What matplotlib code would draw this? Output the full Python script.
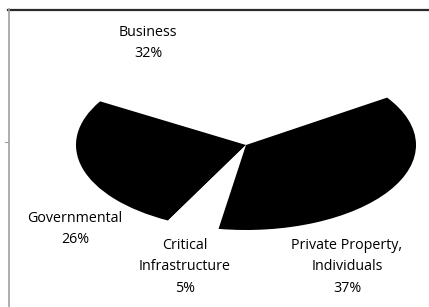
import numpy as np
import matplotlib
matplotlib.use("Agg")
from matplotlib import pyplot as plt
from matplotlib.lines import Line2D

# data
categories = ["Business", "Governmental", "Critical\nInfrastructure", "Private Property,\nIndividuals"]
shares = [32, 26, 5, 37]
colors = ["white", "black", "white", "black"]

W, H = 429, 307
fig = plt.figure(figsize=(W / 100, H / 100), dpi=100)
plt.rcParams['font.family'] = ['Open Sans', 'DejaVu Sans']


def px(x, y):
    return x / W, 1 - y / H


# axes spanning the ellipse of the tilted pie
left, top, right, bottom = 76, 60, 416, 230
ax = fig.add_axes([left / W, 1 - bottom / H, (right - left) / W, (bottom - top) / H])
ax.pie(shares, colors=colors, startangle=33.9, counterclock=True,
       wedgeprops=dict(linewidth=0))
ax.set_aspect('auto')
ax.set_xlim(-1, 1)
ax.set_ylim(-1, 1)
ax.axis('off')

# labels
label_pos = [(148, 43), (75, 229), (185, 267), (347, 267)]
for name, share, (x, y) in zip(categories, shares, label_pos):
    fig.text(*px(x, y), f"{name}\n{share}%", ha='center', va='center',
             fontsize=10.3, linespacing=1.55, color='black')

# frame pieces
fig.add_artist(Line2D([px(8, 0)[0], 1], [px(0, 9.5)[1]] * 2, color='#2a2a2a', lw=1.6))
fig.add_artist(Line2D([px(8.5, 0)[0]] * 2, [px(0, 9)[1], 0], color='#a0a0a0', lw=1.2))
fig.add_artist(Line2D([px(5, 0)[0], px(8, 0)[0]], [px(0, 142)[1]] * 2, color='#a0a0a0', lw=0.8))

fig.savefig("out.png", dpi=100)
